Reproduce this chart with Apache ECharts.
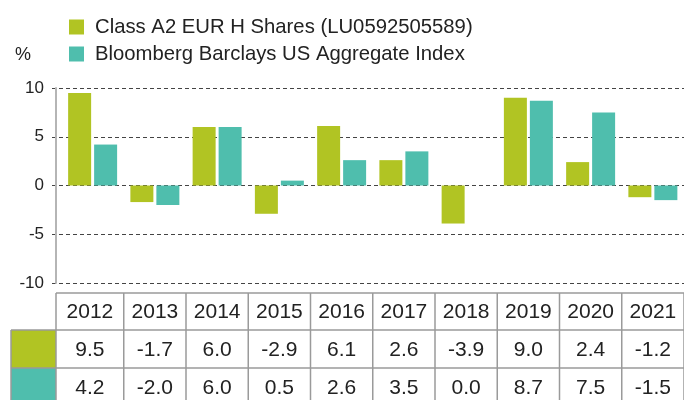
<!DOCTYPE html>
<html><head><meta charset="utf-8">
<script src="https://cdn.jsdelivr.net/npm/echarts@6/dist/echarts.min.js"></script>
<style>html,body{margin:0;padding:0;background:#fff}#c{width:684px;height:400px}</style>
</head><body><div id="c"></div>
<script>
const years = ['2012','2013','2014','2015','2016','2017','2018','2019','2020','2021'];
const seriesNames = ['Class A2 EUR H Shares (LU0592505589)', 'Bloomberg Barclays US Aggregate Index'];
const classA2 = [9.5, -1.7, 6.0, -2.9, 6.1, 2.6, -3.9, 9.0, 2.4, -1.2];
const bbIndex = [4.2, -2.0, 6.0, 0.5, 2.6, 3.5, 0.0, 8.7, 7.5, -1.5];
const yTicks = [-10, -5, 0, 5, 10];
const unitLabel = '%';

const colors = ['#B1C423', '#4FBEAD'];
const textColor = '#222';
const FONT = '"Liberation Sans", Arial, Helvetica, sans-serif';
const yMin = yTicks[0], yMax = yTicks[yTicks.length - 1], yStep = yTicks[1] - yTicks[0];

const chart = echarts.init(document.getElementById('c'), null, {renderer: 'canvas'});
const gridTop = 88, gridH = 195;
chart.setOption({
  animation: false,
  textStyle: {fontFamily: FONT},
  legend: {
    orient: 'vertical', left: 64, top: 12, itemWidth: 15, itemHeight: 15, itemGap: 7,
    icon: 'rect', selectedMode: false,
    textStyle: {fontSize: 20.3, color: textColor, fontFamily: FONT, padding: [0, 0, 0, 6]},
    data: seriesNames
  },
  grid: [
    {left: 52, width: 632, top: gridTop, height: gridH},
    {left: 61.5, width: 623, top: gridTop, height: gridH}
  ],
  xAxis: [
    {gridIndex: 0, type: 'category', data: years, show: false},
    {gridIndex: 1, type: 'category', data: years, axisLine: {show: false}, axisTick: {show: false}, axisLabel: {show: false}}
  ],
  yAxis: [
    {gridIndex: 0, type: 'value', min: yMin, max: yMax, interval: yStep,
     axisLine: {show: false}, axisTick: {show: false},
     axisLabel: {fontSize: 17, color: textColor, margin: 8, fontFamily: FONT},
     splitLine: {lineStyle: {color: '#444', type: [4, 3], width: 1}}},
    {gridIndex: 1, type: 'value', min: yMin, max: yMax, interval: yStep, offset: 5.5,
     axisLine: {show: true, lineStyle: {color: '#b5b5b5', width: 2}}, axisTick: {show: false},
     axisLabel: {show: false}, splitLine: {show: false}}
  ],
  series: [
    {name: seriesNames[0], type: 'bar', xAxisIndex: 1, yAxisIndex: 1, data: classA2, barWidth: 23, barGap: '13%', itemStyle: {color: colors[0]}},
    {name: seriesNames[1], type: 'bar', xAxisIndex: 1, yAxisIndex: 1, data: bbIndex, barWidth: 23, barGap: '13%', itemStyle: {color: colors[1]}}
  ]
});

// table under the chart, columns taken from the category axis
const centers = years.map((y, i) => chart.convertToPixel({xAxisIndex: 1}, i));
const bw = centers[1] - centers[0];
const axisX = 56;
const edges = [axisX].concat(centers.map(c => c + bw / 2));
const rowsY = [293, 330, 368, 406];
const swL = 11;
const border = '#9a9a9a';
const els = [];
const rows = [years, classA2.map(v => v.toFixed(1)), bbIndex.map(v => v.toFixed(1))];
[colors[0], colors[1]].forEach((c, r) => {
  els.push({type: 'rect', shape: {x: swL, y: rowsY[r + 1], width: axisX - swL, height: rowsY[r + 2] - rowsY[r + 1]}, style: {fill: c}});
});
rows.forEach((row, r) => {
  row.forEach((t, i) => {
    const cx = (edges[i] + edges[i + 1]) / 2;
    const cy = (rowsY[r] + rowsY[r + 1]) / 2 + 1;
    els.push({type: 'text', x: cx, y: cy, style: {text: t, fill: textColor, font: '21px ' + FONT, align: 'center', verticalAlign: 'middle'}});
  });
});
els.push({type: 'line', shape: {x1: axisX, y1: rowsY[0], x2: 684, y2: rowsY[0]}, style: {stroke: border, lineWidth: 1.5}});
[1, 2].forEach(r => els.push({type: 'line', shape: {x1: swL, y1: rowsY[r], x2: 684, y2: rowsY[r]}, style: {stroke: border, lineWidth: 1.5}}));
edges.forEach(x => els.push({type: 'line', shape: {x1: x, y1: rowsY[0], x2: x, y2: 400}, style: {stroke: border, lineWidth: 1.5}}));
els.push({type: 'line', shape: {x1: swL, y1: rowsY[1], x2: swL, y2: 400}, style: {stroke: border, lineWidth: 1.5}});
els.push({type: 'text', x: 23, y: 55, style: {text: unitLabel, fill: textColor, font: '18px ' + FONT, align: 'center', verticalAlign: 'middle'}});
chart.setOption({graphic: {elements: els}});
</script>
</body></html>
